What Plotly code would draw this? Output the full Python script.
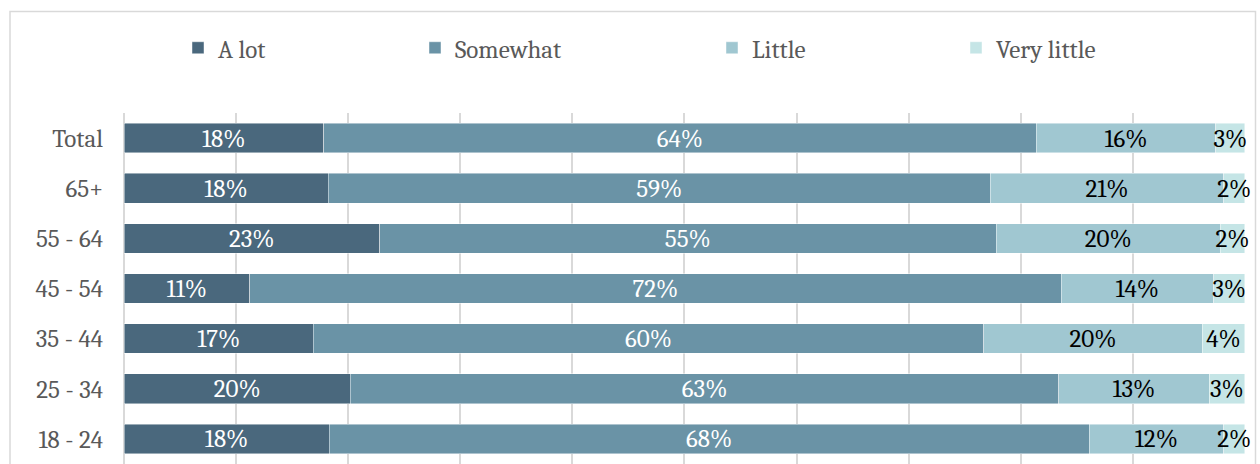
import plotly.graph_objects as go

categories = ["Total", "65+", "55 - 64", "45 - 54", "35 - 44", "25 - 34", "18 - 24"]
series_names = ["A lot", "Somewhat", "Little", "Very little"]
a_lot = [17.8, 18.2, 22.8, 11.2, 16.9, 20.2, 18.3]
somewhat = [63.6, 59.1, 55.0, 72.4, 59.8, 63.2, 67.8]
little = [16.0, 20.8, 20.0, 13.6, 19.5, 13.4, 12.0]
very_little = [2.6, 1.9, 2.2, 2.8, 3.8, 3.2, 1.9]
values = [a_lot, somewhat, little, very_little]

colors = ["#4A687D", "#6A93A6", "#A0C7D1", "#C5E5E6"]
text_colors = ["#FFFFFF", "#FFFFFF", "#000000", "#000000"]
legend_ids = ["legend", "legend2", "legend3", "legend4"]
legend_x_px = [178, 415, 712, 956]

FONT = "Cambria, 'Liberation Serif', serif"
FS = 25
L, R, T, B = 124, 15, 113, 0
W, H = 1260, 464
pw = W - L - R
ph = H - T - B

fig = go.Figure()
for name, vals, col, tcol, lid in zip(series_names, values, colors, text_colors, legend_ids):
    fig.add_trace(go.Bar(
        y=categories, x=vals, name=name, orientation="h",
        marker=dict(color=col, line=dict(color="rgba(255,255,255,0.6)", width=0.75)),
        texttemplate="%{x:.0f}%", textposition="inside", insidetextanchor="middle",
        constraintext="none", textangle=0, cliponaxis=False,
        textfont=dict(family=FONT, size=FS, color=tcol),
        legend=lid, hoverinfo="skip",
    ))

layout_legends = {}
for lid, xp in zip(legend_ids, legend_x_px):
    layout_legends[lid] = dict(
        x=(xp - L) / pw, y=(H - 48 - B) / ph, xanchor="left", yanchor="middle",
        orientation="h", bgcolor="rgba(0,0,0,0)", borderwidth=0,
        font=dict(family=FONT, size=FS, color="#595959"),
    )

fig.update_layout(
    width=W, height=H, barmode="stack", bargap=0.41,
    margin=dict(l=L, r=R, t=T, b=B),
    paper_bgcolor="white", plot_bgcolor="white",
    font=dict(family=FONT, size=FS, color="#595959"),
    showlegend=True,
    xaxis=dict(range=[0, 100.01], tick0=0, dtick=10, showticklabels=False, showgrid=True,
               gridcolor="#D9D9D9", gridwidth=1.5, zeroline=True, zerolinecolor="#D9D9D9",
               zerolinewidth=1.5, showline=False, fixedrange=True),
    yaxis=dict(autorange="reversed", showgrid=False, showline=False, ticks="",
               ticklabelstandoff=20, tickfont=dict(family=FONT, size=FS, color="#595959"),
               fixedrange=True),
    shapes=[dict(type="rect", xref="paper", yref="paper",
                 x0=(10 - L) / pw, x1=(1255.5 - L) / pw,
                 y0=-0.1, y1=(H - 11.5 - B) / ph,
                 line=dict(color="#D9D9D9", width=1.5), layer="below")],
    **layout_legends,
)

fig.write_html("out.html", config={"displayModeBar": False},
               post_script="document.body.style.margin='0';document.body.style.overflow='hidden';")
